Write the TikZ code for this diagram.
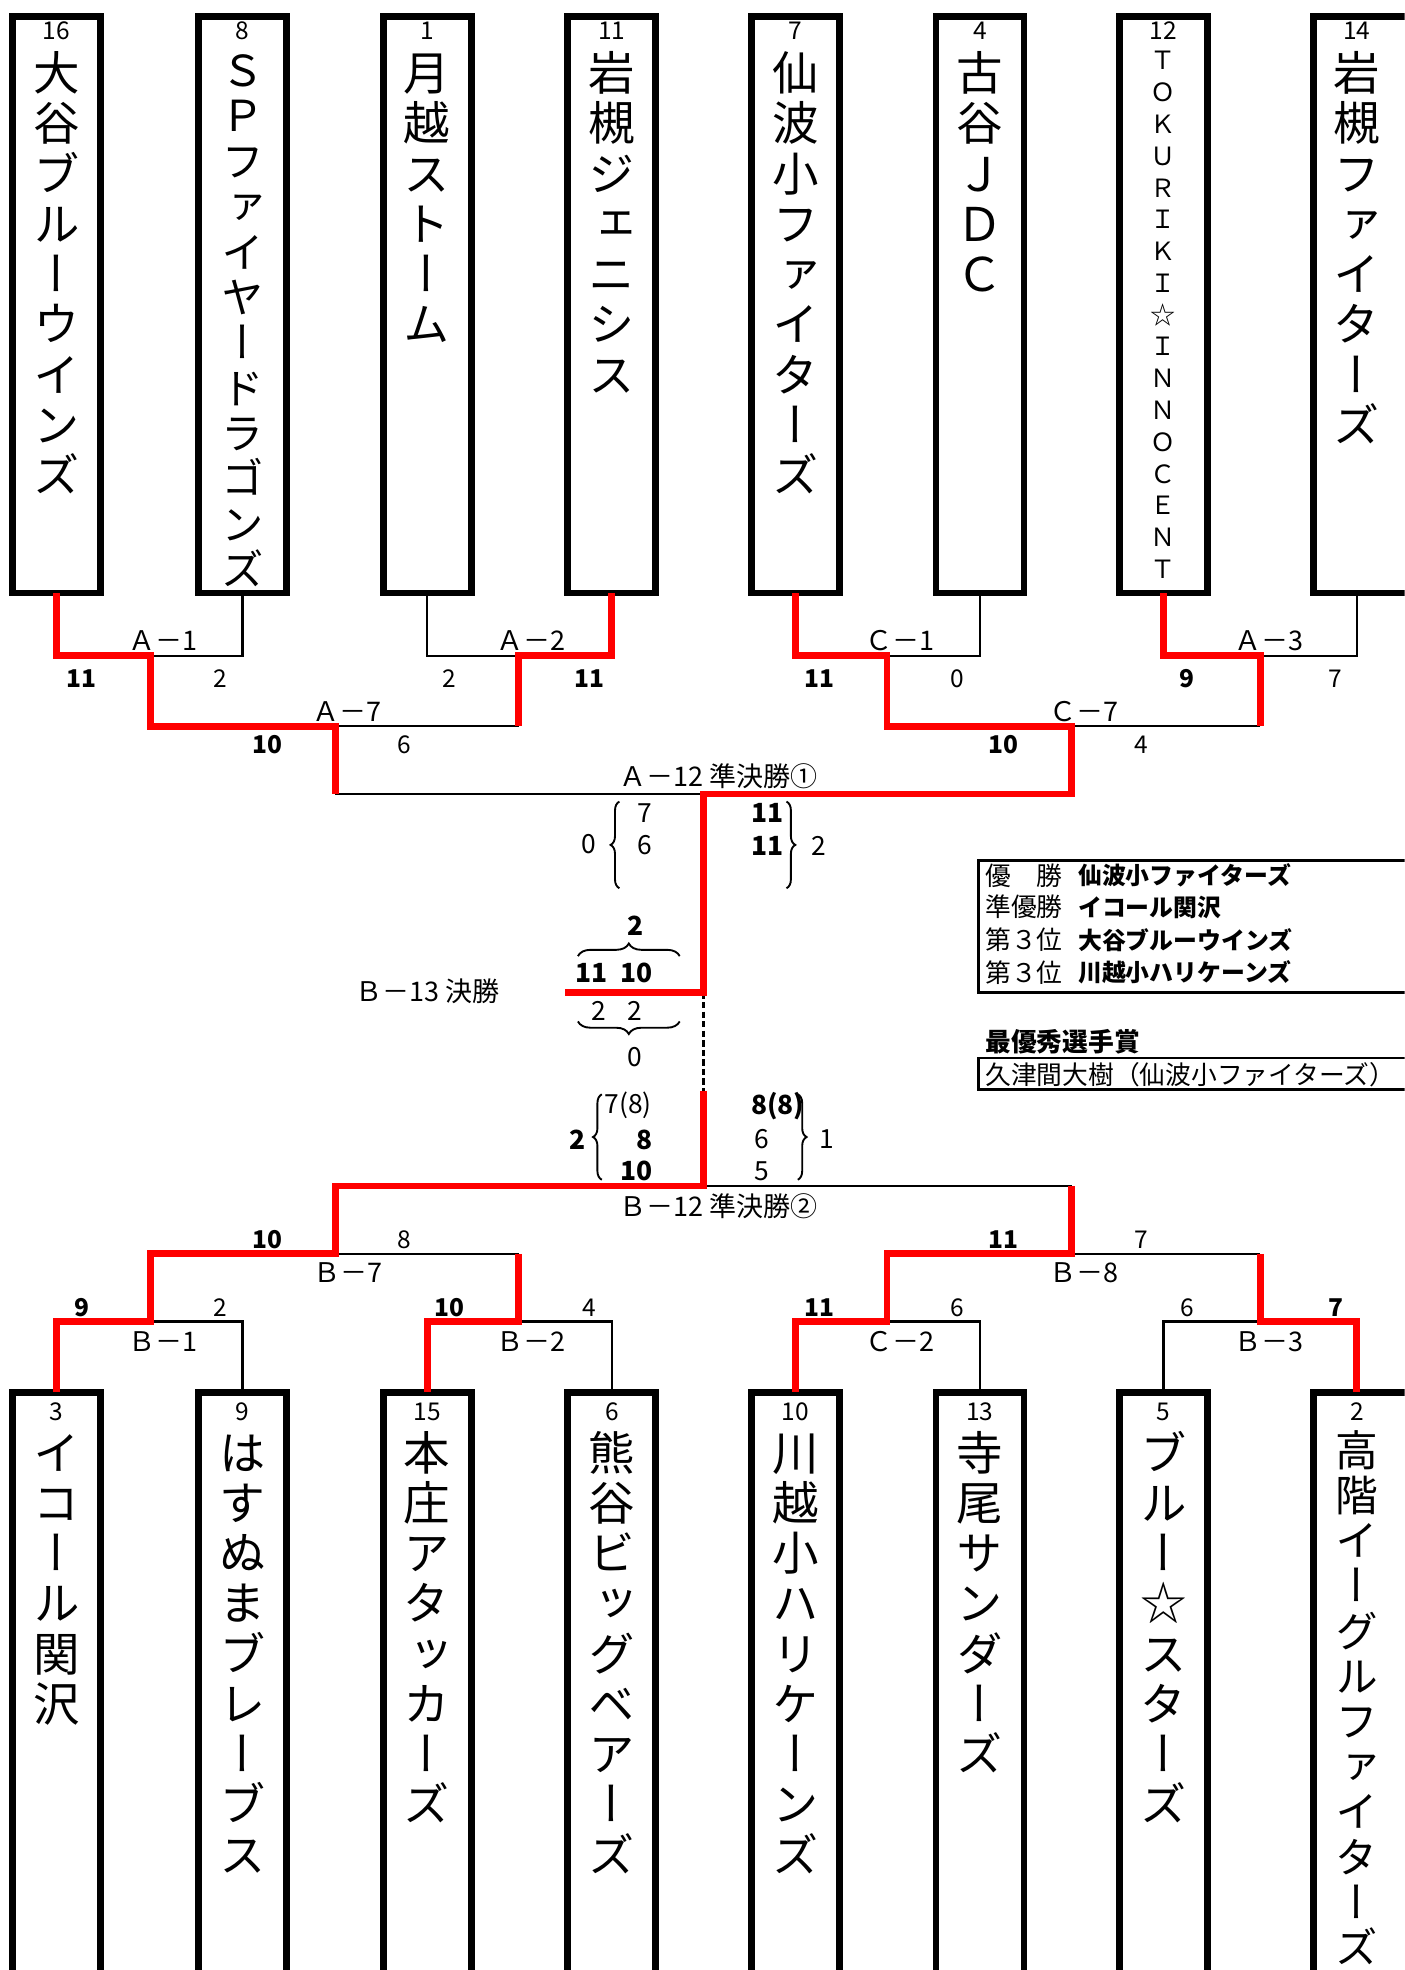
\documentclass[tikz,border=0pt]{standalone}
\usepackage{fontspec}
\setmainfont{Noto Sans CJK JP}
\newfontfamily\jp{Noto Sans CJK JP}
\newfontfamily\jpv[RawFeature=+vert]{Noto Sans CJK JP}
\usetikzlibrary{decorations.pathreplacing}
\newcommand\fsz[1]{\fontsize{#1}{#1}\selectfont}
\newcommand\vnames[6]{%
  \foreach \c [count=\i] in {#6} {
    \node[anchor=base, inner sep=0pt, font=\jpv\fsz{#5}] (#1-\i) at (#2, {-(#3 + (\i-1)*#4 + 0.38*#5)}) {\c};
  }}
\tikzset{
  tbox/.style={draw, line width=5.5pt, inner sep=0pt, outer sep=0pt, minimum width=70pt, minimum height=459pt},
  bbox/.style={draw, line width=5.5pt, inner sep=0pt, outer sep=0pt, minimum width=70pt, minimum height=482pt},
  win/.style={draw=red, line width=5.5pt},
  lose/.style={draw=black, line width=2pt},
  dashl/.style={draw=black, line width=2pt, dash pattern=on 5pt off 2.6pt},
  seed/.style={font=\jp\fsz{19.5}, inner sep=0pt},
  lab/.style={font=\jp\fsz{21.5}, inner sep=0pt},
  sc/.style={font=\jp\fsz{19.5}, inner sep=0pt},
  scb/.style={font=\jp\bfseries\fsz{19.5}, inner sep=0pt},
  bn/.style={font=\jp\fsz{21}, inner sep=0pt},
  bnb/.style={font=\jp\bfseries\fsz{21}, inner sep=0pt},
  br/.style={decorate, decoration={brace, amplitude=7pt}, line width=1.5pt},
  hbr/.style={decorate, decoration={brace, amplitude=10pt}, line width=1.5pt},
  rlab/.style={font=\jp\fsz{20.5}, inner sep=0pt, anchor=west},
  rname/.style={font=\jp\bfseries\fsz{19}, inner sep=0pt, anchor=west},
}
\begin{document}
\begin{tikzpicture}[x=1pt, y=1pt, line join=miter]
\useasboundingbox (0,0) rectangle (1118,-1568);
\clip (0,0) rectangle (1118,-1568);
\fill[white] (0,0) rectangle (1118,-1568);

% team boxes
\foreach \n/\x in {1/45,2/193,3/340,4/487,5/633,6/780,7/926}
  \node[tbox] (t\n) at (\x,-242.5) {};
\node[tbox, minimum width=90pt] (t8) at (1090.5,-242.5) {};
\coordinate (t8s) at (1080,-472);
\foreach \n/\x in {1/45,2/193,3/340,4/487,5/633,6/780,7/926}
  \node[bbox] (b\n) at (\x,-1349) {};
\node[bbox, minimum width=90pt] (b8) at (1090.5,-1349) {};
\coordinate (b8n) at (1080,-1108);

% seeds
\foreach \n/\x/\v in {1/45/16,2/193/8,3/340/1,4/487/11,5/633/7,6/780/4,7/926/12,8/1080/14}
  \node[seed] (ts\n) at (\x,-24.5) {\v};
\foreach \n/\x/\v in {1/45/3,2/193/9,3/340/15,4/487/6,5/633/10,6/780/13,7/926/5,8/1080/2}
  \node[seed] (bs\n) at (\x,-1123.5) {\v};

% team names
\vnames{tn1}{45}{58}{40}{37}{大,谷,ブ,ル,ー,ウ,イ,ン,ズ}
\vnames{tn2}{193}{56}{36.1}{34}{Ｓ,Ｐ,フ,ァ,イ,ヤ,ー,ド,ラ,ゴ,ン,ズ}
\vnames{tn3}{340}{58}{40}{37}{月,越,ス,ト,ー,ム}
\vnames{tn4}{487}{58}{40}{37}{岩,槻,ジ,ェ,ニ,シ,ス}
\vnames{tn5}{633}{58}{40}{37}{仙,波,小,フ,ァ,イ,タ,ー,ズ}
\vnames{tn6}{780}{58}{40}{37}{古,谷,Ｊ,Ｄ,Ｃ}
\vnames{tn7}{926}{48}{25.3}{20}{Ｔ,Ｏ,Ｋ,Ｕ,Ｒ,Ｉ,Ｋ,Ｉ,☆,Ｉ,Ｎ,Ｎ,Ｏ,Ｃ,Ｅ,Ｎ,Ｔ}
\vnames{tn8}{1080}{58}{40}{37}{岩,槻,フ,ァ,イ,タ,ー,ズ}
\vnames{bn1}{45}{1156}{40}{37}{イ,コ,ー,ル,関,沢}
\vnames{bn2}{193}{1156}{40}{37}{は,す,ぬ,ま,ブ,レ,ー,ブ,ス}
\vnames{bn3}{340}{1156}{40}{37}{本,庄,ア,タ,ッ,カ,ー,ズ}
\vnames{bn4}{487}{1156}{40}{37}{熊,谷,ビ,ッ,グ,ベ,ア,ー,ズ}
\vnames{bn5}{633}{1156}{40}{37}{川,越,小,ハ,リ,ケ,ー,ン,ズ}
\vnames{bn6}{780}{1156}{40}{37}{寺,尾,サ,ン,ダ,ー,ズ}
\vnames{bn7}{926}{1156}{40}{37}{ブ,ル,ー,☆,ス,タ,ー,ズ}
\vnames{bn8}{1080}{1154}{36}{34}{高,階,イ,ー,グ,ル,フ,ァ,イ,タ,ー,ズ}

% junctions
\coordinate (jA1) at (120,-522);
\coordinate (jA2) at (413,-522);
\coordinate (jC1) at (706,-522);
\coordinate (jA3) at (1003,-522);
\coordinate (kA1) at (120,-578);
\coordinate (kA2) at (413,-578);
\coordinate (jA7) at (267,-578);
\coordinate (kA7) at (267,-632);
\coordinate (kC1) at (706,-578);
\coordinate (kA3) at (1003,-578);
\coordinate (jC7) at (853,-578);
\coordinate (kC7) at (853,-632);
\coordinate (jA12) at (560,-632);
\coordinate (jF) at (560,-790);
\coordinate (fL) at (450,-790);
\coordinate (jBt) at (560,-868);
\coordinate (jB12) at (560,-944);
\coordinate (kB8) at (853,-944);
\coordinate (jB7) at (267,-998);
\coordinate (jB8) at (853,-998);
\coordinate (kB2) at (413,-998);
\coordinate (kB3) at (1003,-998);
\coordinate (jB1) at (120,-1052);
\coordinate (jB2) at (413,-1052);
\coordinate (jC2) at (706,-1052);
\coordinate (jB3) at (1003,-1052);

% losing lines
\draw[lose] (t2.south) |- (jA1);
\draw[lose] (t3.south) |- (jA2);
\draw[lose] (kA2) -- (jA7);
\draw[lose] (t6.south) |- (jC1);
\draw[lose] (t8s) |- (jA3);
\draw[lose] (kA3) -- (jC7);
\draw[lose] (kA7) -- (jA12);
\draw[dashl] (jF) -- (jBt);
\draw[lose] (jB12) -- (kB8);
\draw[lose] (jB7) -- (kB2);
\draw[lose] (jB8) -- (kB3);
\draw[lose] (jB1) -| (b2.north);
\draw[lose] (jB2) -| (b4.north);
\draw[lose] (jC2) -| (b6.north);
\draw[lose] (jB3) -| (b7.north);

% winning lines
\draw[win] (t1.south) |- (jA1) -- (kA1) -| (kA7);
\draw[win] (t4.south) |- (jA2) -- (kA2);
\draw[win] (t5.south) |- (jC1) -- (kC1) -| (kC7) -| (jF) -- (fL);
\draw[win] (t7.south) |- (jA3) -- (kA3);
\draw[win] (jBt) -- (jB12) -| (jB7) -| (jB1) -| (b1.north);
\draw[win] (kB8) -- (jB8) -| (jC2) -| (b5.north);
\draw[win] (kB2) -- (jB2) -| (b3.north);
\draw[win] (kB3) -- (jB3) -| (b8n);

% match labels
\node[lab] (lA1) at (130,-510) {Ａ－1};
\node[lab] (lA2) at (423,-510) {Ａ－2};
\node[lab] (lC1) at (716,-510) {Ｃ－1};
\node[lab] (lA3) at (1010,-510) {Ａ－3};
\node[lab] (lA7) at (276,-566) {Ａ－7};
\node[lab] (lC7) at (863,-566) {Ｃ－7};
\node[lab] (lA12) at (572,-618) {Ａ－12 準決勝①};
\node[lab] (lB13) at (340,-789) {Ｂ－13 決勝};
\node[lab] (lB12) at (572,-960) {Ｂ－12 準決勝②};
\node[lab] (lB7) at (277,-1013) {Ｂ－7};
\node[lab] (lB8) at (863,-1013) {Ｂ－8};
\node[lab] (lB1) at (130,-1068) {Ｂ－1};
\node[lab] (lB2) at (423,-1068) {Ｂ－2};
\node[lab] (lC2) at (716,-1068) {Ｃ－2};
\node[lab] (lB3) at (1010,-1068) {Ｂ－3};

% scores
\node[scb] (s1) at (65,-540) {11};
\node[sc] (s2) at (175,-540) {2};
\node[sc] (s3) at (358,-540) {2};
\node[scb] (s4) at (469,-540) {11};
\node[scb] (s5) at (652,-540) {11};
\node[sc] (s6) at (762,-540) {0};
\node[scb] (s7) at (945,-540) {9};
\node[sc] (s8) at (1063,-540) {7};
\node[scb] (s9) at (213,-593) {10};
\node[sc] (s10) at (322,-593) {6};
\node[scb] (s11) at (799,-593) {10};
\node[sc] (s12) at (908,-593) {4};
\node[scb] (s13) at (213,-987) {10};
\node[sc] (s14) at (322,-987) {8};
\node[scb] (s15) at (799,-987) {11};
\node[sc] (s16) at (908,-987) {7};
\node[scb] (s17) at (65,-1041) {9};
\node[sc] (s18) at (175,-1041) {2};
\node[scb] (s19) at (358,-1041) {10};
\node[sc] (s20) at (469,-1041) {4};
\node[scb] (s21) at (652,-1041) {11};
\node[sc] (s22) at (762,-1041) {6};
\node[sc] (s23) at (945,-1041) {6};
\node[scb] (s24) at (1063,-1041) {7};

% set scores with braces
\draw[br] (493,-707) -- (493,-638);
\draw[br] (626,-638) -- (626,-707);
\draw[hbr] (460,-761) -- (541,-761);
\draw[hbr] (541,-813) -- (460,-813);
\draw[br] (479,-939) -- (479,-871);
\draw[br] (635,-871) -- (635,-939);
\node[bn] (g1) at (469,-672) {0};
\node[bn] (g2) at (513,-647) {7};
\node[bn] (g3) at (513,-673) {6};
\node[bnb] (g4) at (611,-647) {11};
\node[bnb] (g5) at (611,-673) {11};
\node[bn] (g6) at (652,-673) {2};
\node[bnb] (g7) at (506,-737) {2};
\node[bnb] (g8) at (471,-774.5) {11};
\node[bnb] (g9) at (507,-774.5) {10};
\node[bn] (g10) at (477,-804.5) {2};
\node[bn] (g11) at (505,-804.5) {2};
\node[bn] (g12) at (505,-841) {0};
\node[bnb] (g13) at (460,-907) {2};
\node[bn] (g14) at (500,-880) {7(8)};
\node[bnb] (g15) at (513,-907) {8};
\node[bnb] (g16) at (507,-932) {10};
\node[bnb] (g17) at (619,-880) {8(8)};
\node[bn] (g18) at (606,-907) {6};
\node[bn] (g19) at (606,-932) {5};
\node[bn] (g20) at (658,-907) {1};

% results
\draw[line width=2pt] (1130,-685) -- (779,-685) -- (779,-790) -- (1130,-790);
\node[rlab] (r1) at (784,-697) {優　勝};
\node[rname] (r1n) at (858,-697) {仙波小ファイターズ};
\node[rlab] (r2) at (784,-722) {準優勝};
\node[rname] (r2n) at (858,-722) {イコール関沢};
\node[rlab] (r3) at (784,-748) {第３位};
\node[rname] (r3n) at (858,-748) {大谷ブルーウインズ};
\node[rlab] (r4) at (784,-774) {第３位};
\node[rname] (r4n) at (858,-774) {川越小ハリケーンズ};
\node[rname, font=\jp\bfseries\fsz{20.5}] (mvp) at (784,-829) {最優秀選手賞};
\draw[line width=2pt] (1130,-842) -- (779,-842) -- (779,-867) -- (1130,-867);
\node[rlab] (mvpn) at (784,-855) {久津間大樹（仙波小ファイターズ）};
\end{tikzpicture}
\end{document}
